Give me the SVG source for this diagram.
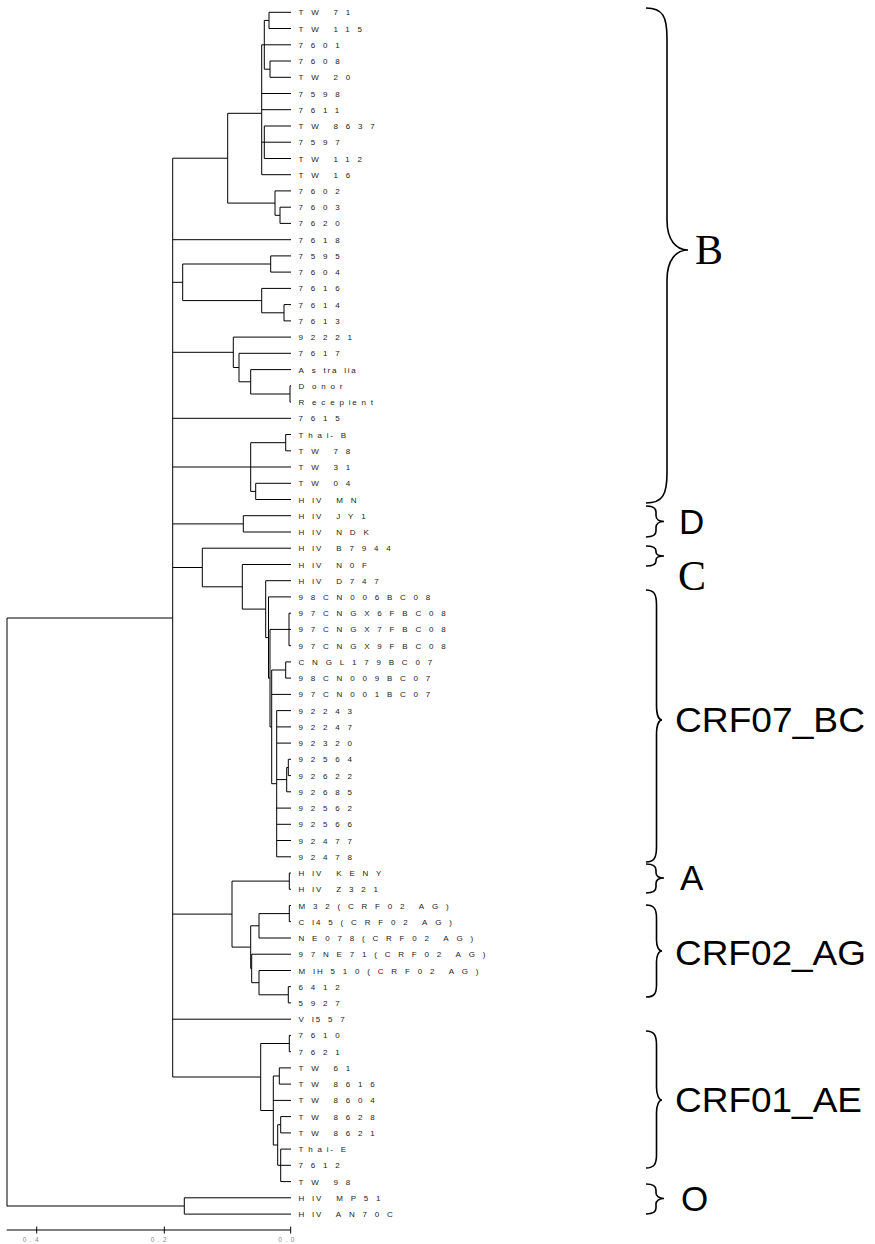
<svg xmlns="http://www.w3.org/2000/svg" width="875" height="1244" viewBox="0 0 875 1244">
<style>
.t{font-family:"Liberation Sans",Arial,sans-serif;font-size:8px;letter-spacing:7.8px;word-spacing:-3px;fill:#222}
.t .n{letter-spacing:1.8px}
.t .lc{letter-spacing:4.8px}
.ln{fill:none;stroke:#000;stroke-width:1}
.br{fill:none;stroke:#000;stroke-width:1.6}
.cl{font-family:"Liberation Sans",Arial,sans-serif;font-size:35px;fill:#000}
.cs{font-family:"Liberation Serif","Times New Roman",serif;font-size:42px;fill:#000}
.ax{font-family:"Liberation Sans",Arial,sans-serif;font-size:6.5px;letter-spacing:3.5px;fill:#888}
</style>
<rect width="875" height="1244" fill="#fff"/>
<g id="connectors" class="ln">
<path d="M7,618V1206.3M7,618H172.7M7,1206H184.3M184.3,1197.8V1214.1M184.3,1197.8H291M184.3,1214.1H291"/>
<path d="M172.7,158.2V1077M172.7,158.2H227.7M172.7,239.7H291M172.7,282.3H182.7M172.7,352.3H233.3M172.7,418.3H291M172.7,467H291M172.7,523.9H243.3M172.7,567.5H202.3M172.7,914.1H232M172.7,1019.2H291M172.7,1077H260.7"/>
<path d="M227.7,113.3V203.1M227.7,113.3H261.7M227.7,203.1H275M261.7,44.8V174.7M261.7,44.8H264.3M261.7,93.5H291M261.7,109.7H291M261.7,142.2H264.3M261.7,174.7H291M264.3,20.4V69.2M264.3,20.4H269M264.3,44.8H291M264.3,69.2H270M269,12.3V28.5M269,12.3H291M269,28.5H291M270,61V77.3M270,61H291M270,77.3H291M264.3,126V158.5M264.3,126H291M264.3,142.2H291M264.3,158.5H291M275,190.9V215.3M275,190.9H291M275,215.3H280M280,207.2V223.4M280,207.2H291M280,223.4H291"/>
<path d="M182.7,264V300.6M182.7,264H270.7M182.7,300.6H261.7M270.7,255.9V272.1M270.7,255.9H291M270.7,272.1H291M261.7,288.4V312.8M261.7,288.4H291M261.7,312.8H284M284,304.6V320.9M284,304.6H291M284,320.9H291"/>
<path d="M233.3,337.1V367.5M233.3,337.1H291M233.3,367.5H239M239,353.3V381.8M239,353.3H291M239,381.8H250.7M250.7,369.6V394M250.7,369.6H291M250.7,394H290M290,385.8V402.1M290,385.8H291M290,402.1H291"/>
<path d="M250.7,442.7V491.4M250.7,442.7H285.7M250.7,491.4H255.7M285.7,434.5V450.8M285.7,434.5H291M285.7,450.8H291M255.7,483.3V499.5M255.7,483.3H291M255.7,499.5H291"/>
<path d="M243.3,515.7V532M243.3,515.7H291M243.3,532H291"/>
<path d="M202.3,548.2V586.8M202.3,548.2H291M202.3,586.8H242.3M242.3,564.5V609.1M242.3,564.5H291M242.3,609.1H265.7M265.7,580.7V637.6M265.7,580.7H291M265.7,637.6H268.5M268.5,596.9V678.2M268.5,596.9H291M268.5,678.2H270M270,629.4V727M270,629.4H289M270,727H271.7M289,613.2V645.7M289,613.2H291M289,629.4H291M289,645.7H291M271.7,670V783.7M271.7,670H285.7M271.7,694.4H291M271.7,783.7H276.7M285.7,661.9V678.1M285.7,661.9H291M285.7,678.1H291M276.7,710.6V856.8M276.7,710.6H291M276.7,726.9H291M276.7,743.1H291M276.7,808.1H291M276.7,824.3H291M276.7,840.5H291M276.7,856.8H291M276.7,779.6H286.7M286.7,767.5V791.8M286.7,767.5H288.3M286.7,791.8H291M288.3,759.3V775.6M288.3,759.3H291M288.3,775.6H291"/>
<path d="M232,881.1V947.1M232,881.1H289.3M232,947.1H250.7M289.3,873V889.3M289.3,873H291M289.3,889.3H291M250.7,925.8V968.4M250.7,925.8H259M250.7,968.4H251.7M259,913.6V938M259,913.6H289.3M259,938H291M289.3,905.5V921.7M289.3,905.5H291M289.3,921.7H291M251.7,954.2V982.7M251.7,954.2H291M251.7,982.7H259M259,970.5V994.8M259,970.5H291M259,994.8H288.3M288.3,986.7V1002.9M288.3,986.7H291M288.3,1002.9H291"/>
<path d="M260.7,1043.5V1110.5M260.7,1043.5H289.3M260.7,1110.5H273.3M289.3,1035.4V1051.7M289.3,1035.4H291M289.3,1051.7H291M273.3,1076V1145M273.3,1076H279.3M273.3,1100.4H291M273.3,1145H277.7M279.3,1067.9V1084.1M279.3,1067.9H291M279.3,1084.1H291M277.7,1124.7V1165.3M277.7,1124.7H280.7M277.7,1165.3H291M280.7,1116.6V1132.9M280.7,1116.6H291M280.7,1132.9H291M280.7,1149.1V1181.6M280.7,1149.1H291M280.7,1181.6H291"/>
</g>
<g id="axis">
<path class="ln" d="M6.7,1230H290.7M36.7,1226.5V1233.5M164.3,1226.5V1233.5M290.7,1226.5V1233.5"/>
<text class="ax" x="22.7" y="1241.8">0.4</text>
<text class="ax" x="150.7" y="1241.8">0.2</text>
<text class="ax" x="278.3" y="1241.8">0.0</text>
</g>
<g class="t">
<g id="leaf01"><text x="298.5" y="15.3">TW 71</text></g>
<g id="leaf02"><text x="298.5" y="31.5">TW 115</text></g>
<g id="leaf03"><text x="298.5" y="47.8">7601</text></g>
<g id="leaf04"><text x="298.5" y="64">7608</text></g>
<g id="leaf05"><text x="298.5" y="80.3">TW 20</text></g>
<g id="leaf06"><text x="298.5" y="96.5">7598</text></g>
<g id="leaf07"><text x="298.5" y="112.7">7611</text></g>
<g id="leaf08"><text x="298.5" y="129">TW 8637</text></g>
<g id="leaf09"><text x="298.5" y="145.2">7597</text></g>
<g id="leaf10"><text x="298.5" y="161.5">TW 112</text></g>
<g id="leaf11"><text x="298.5" y="177.7">TW 16</text></g>
<g id="leaf12"><text x="298.5" y="193.9">7602</text></g>
<g id="leaf13"><text x="298.5" y="210.2">7603</text></g>
<g id="leaf14"><text x="298.5" y="226.4">7620</text></g>
<g id="leaf15"><text x="298.5" y="242.7">7618</text></g>
<g id="leaf16"><text x="298.5" y="258.9">7595</text></g>
<g id="leaf17"><text x="298.5" y="275.1">7604</text></g>
<g id="leaf18"><text x="298.5" y="291.4">7616</text></g>
<g id="leaf19"><text x="298.5" y="307.6">7614</text></g>
<g id="leaf20"><text x="298.5" y="323.9">7613</text></g>
<g id="leaf21"><text x="298.5" y="340.1">92221</text></g>
<g id="leaf22"><text x="298.5" y="356.3">7617</text></g>
<g id="leaf23"><text x="298.5" y="372.6">As<tspan class="n">tr</tspan>a<tspan class="n">li</tspan>a</text></g>
<g id="leaf24"><text x="298.5" y="388.8">D<tspan class="lc">ono</tspan><tspan class="n">r</tspan></text></g>
<g id="leaf25"><text x="298.5" y="405.1">R<tspan class="lc">ecep</tspan><tspan class="n">i</tspan><tspan class="lc">en</tspan>t</text></g>
<g id="leaf26"><text x="298.5" y="421.3">7615</text></g>
<g id="leaf27"><text x="298.5" y="437.5"><tspan class="lc">Tha</tspan><tspan class="n">i</tspan>-B</text></g>
<g id="leaf28"><text x="298.5" y="453.8">TW 78</text></g>
<g id="leaf29"><text x="298.5" y="470">TW 31</text></g>
<g id="leaf30"><text x="298.5" y="486.3">TW 04</text></g>
<g id="leaf31"><text x="298.5" y="502.5">H<tspan class="n">I</tspan>V MN</text></g>
<g id="leaf32"><text x="298.5" y="518.7">H<tspan class="n">I</tspan>V JY1</text></g>
<g id="leaf33"><text x="298.5" y="535">H<tspan class="n">I</tspan>V NDK</text></g>
<g id="leaf34"><text x="298.5" y="551.2">H<tspan class="n">I</tspan>V B7944</text></g>
<g id="leaf35"><text x="298.5" y="567.5">H<tspan class="n">I</tspan>V N0F</text></g>
<g id="leaf36"><text x="298.5" y="583.7">H<tspan class="n">I</tspan>V D747</text></g>
<g id="leaf37"><text x="298.5" y="599.9">98CN006BC08</text></g>
<g id="leaf38"><text x="298.5" y="616.2">97CNGX6FBC08</text></g>
<g id="leaf39"><text x="298.5" y="632.4">97CNGX7FBC08</text></g>
<g id="leaf40"><text x="298.5" y="648.7">97CNGX9FBC08</text></g>
<g id="leaf41"><text x="298.5" y="664.9">CNGL179BC07</text></g>
<g id="leaf42"><text x="298.5" y="681.1">98CN009BC07</text></g>
<g id="leaf43"><text x="298.5" y="697.4">97CN001BC07</text></g>
<g id="leaf44"><text x="298.5" y="713.6">92243</text></g>
<g id="leaf45"><text x="298.5" y="729.9">92247</text></g>
<g id="leaf46"><text x="298.5" y="746.1">92320</text></g>
<g id="leaf47"><text x="298.5" y="762.3">92564</text></g>
<g id="leaf48"><text x="298.5" y="778.6">92622</text></g>
<g id="leaf49"><text x="298.5" y="794.8">92685</text></g>
<g id="leaf50"><text x="298.5" y="811.1">92562</text></g>
<g id="leaf51"><text x="298.5" y="827.3">92566</text></g>
<g id="leaf52"><text x="298.5" y="843.5">92477</text></g>
<g id="leaf53"><text x="298.5" y="859.8">92478</text></g>
<g id="leaf54"><text x="298.5" y="876">H<tspan class="n">I</tspan>V KENY</text></g>
<g id="leaf55"><text x="298.5" y="892.3">H<tspan class="n">I</tspan>V Z321</text></g>
<g id="leaf56"><text x="298.5" y="908.5">M32(CRF02 AG)</text></g>
<g id="leaf57"><text x="298.5" y="924.7">C<tspan class="n">I</tspan>45(CRF02 AG)</text></g>
<g id="leaf58"><text x="298.5" y="941">NE078(CRF02 AG)</text></g>
<g id="leaf59"><text x="298.5" y="957.2">97NE71(CRF02 AG)</text></g>
<g id="leaf60"><text x="298.5" y="973.5">M<tspan class="n">I</tspan>H510(CRF02 AG)</text></g>
<g id="leaf61"><text x="298.5" y="989.7">6412</text></g>
<g id="leaf62"><text x="298.5" y="1005.9">5927</text></g>
<g id="leaf63"><text x="298.5" y="1022.2">V<tspan class="n">I</tspan>557</text></g>
<g id="leaf64"><text x="298.5" y="1038.4">7610</text></g>
<g id="leaf65"><text x="298.5" y="1054.7">7621</text></g>
<g id="leaf66"><text x="298.5" y="1070.9">TW 61</text></g>
<g id="leaf67"><text x="298.5" y="1087.1">TW 8616</text></g>
<g id="leaf68"><text x="298.5" y="1103.4">TW 8604</text></g>
<g id="leaf69"><text x="298.5" y="1119.6">TW 8628</text></g>
<g id="leaf70"><text x="298.5" y="1135.9">TW 8621</text></g>
<g id="leaf71"><text x="298.5" y="1152.1"><tspan class="lc">Tha</tspan><tspan class="n">i</tspan>-E</text></g>
<g id="leaf72"><text x="298.5" y="1168.3">7612</text></g>
<g id="leaf73"><text x="298.5" y="1184.6">TW 98</text></g>
<g id="leaf74"><text x="298.5" y="1200.8">H<tspan class="n">I</tspan>V MP51</text></g>
<g id="leaf75"><text x="298.5" y="1217.1">H<tspan class="n">I</tspan>V AN70C</text></g>
</g>
<g id="clade-B">
<path class="br" d="M646,8C663,8 667,17 667,38L667,220C667,240 676,250 688,250C676,250 667,260 667,280L667,473C667,494 663,503 646,503"/>
<text class="cs" x="695" y="264">B</text>
</g>
<g id="clade-D">
<path class="br" d="M646,506C653,506 656,508 656,512L656,515.5C656,519 659,521.5 664,521.5C659,521.5 656,524 656,527.5L656,531C656,535 653,537 646,537"/>
<text class="cl" x="679" y="534">D</text>
</g>
<g id="clade-C">
<path class="br" d="M646,546C653,546 656,548 656,551L656,552C656,554.5 659,556 664,556C659,556 656,557.5 656,560L656,561C656,564 653,566 646,566"/>
<text class="cs" x="678" y="590">C</text>
</g>
<g id="clade-CRF07_BC">
<path class="br" d="M646,590C654,590 656.5,594 656.5,605L656.5,705C656.5,715 659,720 662,720C659,720 656.5,725 656.5,735L656.5,847C656.5,858 654,862 646,862"/>
<text class="cl" x="675" y="732" textLength="190" lengthAdjust="spacingAndGlyphs">CRF07_BC</text>
</g>
<g id="clade-A">
<path class="br" d="M646,864C653,864 656,866 656,870L656,872.5C656,876 659,878 664,878C659,878 656,880 656,883.5L656,887C656,891 653,893 646,893"/>
<text class="cl" x="680" y="890">A</text>
</g>
<g id="clade-CRF02_AG">
<path class="br" d="M646,905C654,905 656.5,909 656.5,918L656.5,940C656.5,947 659,951 662,951C659,951 656.5,955 656.5,962L656.5,985C656.5,994 654,997 646,997"/>
<text class="cl" x="675" y="965" textLength="191" lengthAdjust="spacingAndGlyphs">CRF02_AG</text>
</g>
<g id="clade-CRF01_AE">
<path class="br" d="M646,1031C654,1031 656.5,1035 656.5,1045L656.5,1087C656.5,1095 659,1100 662,1100C659,1100 656.5,1105 656.5,1113L656.5,1155C656.5,1164 654,1168 646,1168"/>
<text class="cl" x="675" y="1112" textLength="187" lengthAdjust="spacingAndGlyphs">CRF01_AE</text>
</g>
<g id="clade-O">
<path class="br" d="M646,1184C653,1184 656,1186 656,1190L656,1193C656,1196 659,1198.5 664,1198.5C659,1198.5 656,1201 656,1204L656,1208C656,1212 653,1214 646,1214"/>
<text class="cl" x="681" y="1211">O</text>
</g>
</svg>
